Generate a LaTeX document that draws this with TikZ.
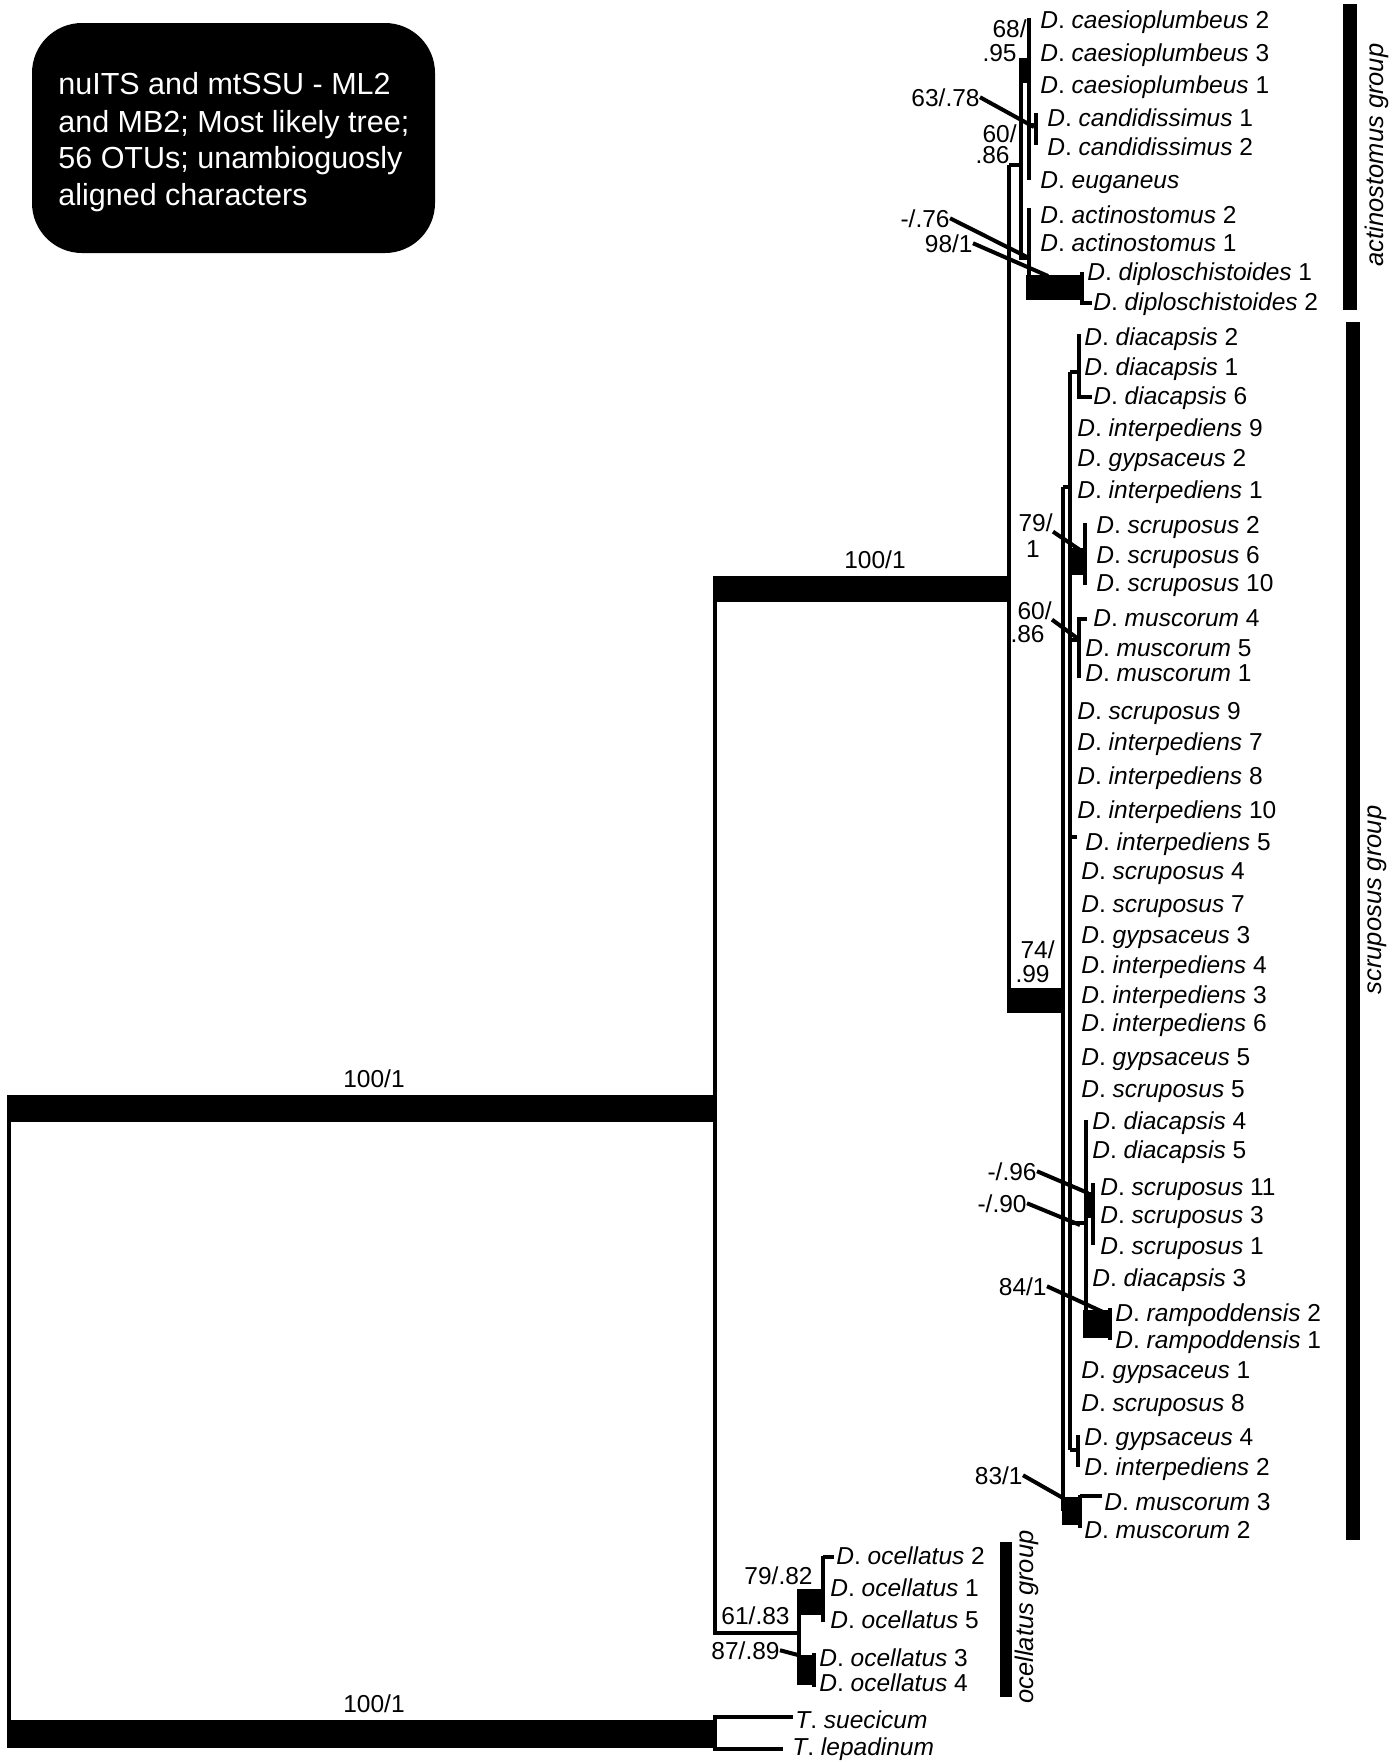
\documentclass[tikz,border=0pt]{standalone}
\usepackage{fontspec}
\setmainfont{Liberation Sans}
\newcommand\txsize{\fontsize{12.25pt}{14pt}\selectfont}
\newcommand\ttlsize{\fontsize{15.25pt}{18.5pt}\selectfont}
\newcommand\grpsize{\fontsize{12.75pt}{15pt}\selectfont}
\newcommand\txn[3]{\textit{#1}. \textit{#2} #3}
\begin{document}
\begin{tikzpicture}[x=0.5pt,y=-0.5pt,
  br/.style={line width=2pt},
  ld/.style={line width=2pt},
  tip/.style={anchor=base west, inner sep=0pt, font=\txsize},
  supp/.style={anchor=base east, inner sep=0pt, font=\txsize},
  suppc/.style={anchor=base, inner sep=0pt, font=\txsize},
  grp/.style={rotate=90, inner sep=0pt, font=\grpsize\itshape},
  ttl/.style={anchor=base west, inner sep=0pt, text=white, font=\ttlsize},
]
\useasboundingbox (0,0) rectangle (1400,1762);

% title box
\fill[rounded corners=25pt] (32,23) rectangle (435,253);
\node[ttl] (ttl1) at (58,94) {nuITS and mtSSU - ML2};
\node[ttl] (ttl2) at (58,132) {and MB2; Most likely tree;};
\node[ttl] (ttl3) at (58,168) {56 OTUs; unambioguosly};
\node[ttl] (ttl4) at (58,205) {aligned characters};

% group bars and labels
\fill (1343,4) rectangle (1357,310);
\fill (1346,322) rectangle (1360,1540);
\fill (1000,1542) rectangle (1012,1697);
\node[grp] (gact) at (1377,155) {actinostomus group};
\node[grp] (gscr) at (1377,900) {scruposus group};
\node[grp] (goce) at (1027,1617) {ocellatus group};

% root and deep branches
\fill (7,1095) rectangle (715,1122);
\fill (7,1720) rectangle (715,1748);
\draw[br] (9,1108) -- (9,1734);
\draw[br] (715,589) -- (715,1633) -- (799,1633);
\fill (713,576) rectangle (1010,602);
\draw[br] (1009,165) -- (1009,1000);
\draw[br] (1009,165) -- (1021,165);

% actinostomus group
\fill (1019,58) rectangle (1029,83);
\draw[br] (1029,18) -- (1029,180);
\draw[br] (1021,83) -- (1021,258) -- (1029,258);
\draw[br] (1029,125) -- (1036,125);
\draw[br] (1036,113) -- (1036,145);
\draw[br] (1029,208) -- (1029,288);
\fill (1026,275) rectangle (1083,300);
\draw[br] (1082,272) -- (1082,303) -- (1092,303);

% scruposus group
\fill (1007,988) rectangle (1062,1013);
\draw[br] (1063,487) -- (1063,1511);
\draw[br] (1063,487) -- (1070,487);
\draw[br] (1070,372) -- (1070,1450);
\draw[br] (1070,372) -- (1079,372);
\draw[br] (1079,334) -- (1079,397) -- (1092,397);
\fill (1070,548) rectangle (1085,575);
\draw[br] (1085,523) -- (1085,585);
\draw[br] (1070,640) -- (1079,640);
\draw[br] (1087,619) -- (1079,619) -- (1079,678);
\draw[br] (1070,837) -- (1077,837);
\draw[br] (1070,1223) -- (1086,1223);
\draw[br] (1086,1120) -- (1086,1312);
\fill (1086,1192) rectangle (1093,1218);
\draw[br] (1093,1183) -- (1093,1245);
\fill (1083,1310) rectangle (1110,1338);
\draw[br] (1110,1308) -- (1110,1340);
\draw[br] (1070,1450) -- (1078,1450);
\draw[br] (1078,1435) -- (1078,1467);
\fill (1062,1497) rectangle (1080,1525);
\draw[br] (1080,1495) -- (1080,1528);
\draw[br] (1080,1496) -- (1102,1496);

% ocellatus group
\draw[br] (799,1602) -- (799,1670);
\fill (797,1589) rectangle (823,1615);
\draw[br] (823,1556) -- (823,1622);
\draw[br] (823,1557) -- (834,1557);
\fill (797,1655) rectangle (813,1685);
\draw[br] (814,1653) -- (814,1687);

% Trapelia outgroup
\draw[br] (793,1717) -- (715,1717) -- (715,1749) -- (783,1749);

% support labels
\node[supp] (s68a) at (1027,37) {68/};
\node[supp] (s68b) at (1017,61) {.95};
\node[supp] (s63) at (980,106) {63/.78};
\node[supp] (s60a) at (1017,142) {60/};
\node[supp] (s60b) at (1010,163) {.86};
\node[supp] (s76) at (950,227) {-/.76};
\node[supp] (s98) at (973,252) {98/1};
\node[supp] (s79a) at (1053,531) {79/};
\node[suppc] (s79b) at (1033,557) {1};
\node[supp] (sm60a) at (1052,619) {60/};
\node[supp] (sm60b) at (1045,642) {.86};
\node[supp] (s74a) at (1055,958) {74/};
\node[supp] (s74b) at (1050,982) {.99};
\node[supp] (s96) at (1037,1180) {-/.96};
\node[supp] (s90) at (1027,1212) {-/.90};
\node[supp] (s84) at (1047,1295) {84/1};
\node[supp] (s83) at (1023,1484) {83/1};
\node[supp] (s7982) at (813,1584) {79/.82};
\node[supp] (s6183) at (790,1624) {61/.83};
\node[supp] (s8789) at (780,1659) {87/.89};
\node[suppc] (b1) at (875,568) {100/1};
\node[suppc] (b2) at (374,1087) {100/1};
\node[suppc] (b3) at (374,1712) {100/1};

% leader targets
\coordinate (c63) at (1034,127);
\coordinate (c76) at (1027,257);
\coordinate (c98) at (1048,276);
\coordinate (c79) at (1080,550);
\coordinate (cm60) at (1077,638);
\coordinate (c96) at (1088,1193);
\coordinate (c90) at (1080,1225);
\coordinate (c84) at (1103,1312);
\coordinate (c83) at (1070,1502);
\coordinate (c87) at (798,1655);
\draw[ld] (s63.east) -- (c63);
\draw[ld] (s76.east) -- (c76);
\draw[ld] (s98.east) -- (c98);
\draw[ld] (s79a.south east) -- (c79);
\draw[ld] (sm60a.south east) -- (cm60);
\draw[ld] (s96.east) -- (c96);
\draw[ld] (s90.east) -- (c90);
\draw[ld] (s84.east) -- (c84);
\draw[ld] (s83.east) -- (c83);
\draw[ld] (s8789.east) -- (c87);

% taxa: actinostomus group
\node[tip] (caes2) at (1040,28) {\txn{D}{caesioplumbeus}{2}};
\node[tip] (caes3) at (1040,61) {\txn{D}{caesioplumbeus}{3}};
\node[tip] (caes1) at (1040,93) {\txn{D}{caesioplumbeus}{1}};
\node[tip] (cand1) at (1047,126) {\txn{D}{candidissimus}{1}};
\node[tip] (cand2) at (1047,155) {\txn{D}{candidissimus}{2}};
\node[tip] (eug) at (1040,188) {\textit{D}. \textit{euganeus}};
\node[tip] (act2) at (1040,223) {\txn{D}{actinostomus}{2}};
\node[tip] (act1) at (1040,251) {\txn{D}{actinostomus}{1}};
\node[tip] (dip1) at (1087,280) {\txn{D}{diploschistoides}{1}};
\node[tip] (dip2) at (1093,310) {\txn{D}{diploschistoides}{2}};

% taxa: scruposus group
\node[tip] (dia2) at (1084,345) {\txn{D}{diacapsis}{2}};
\node[tip] (dia1) at (1084,375) {\txn{D}{diacapsis}{1}};
\node[tip] (dia6) at (1093,404) {\txn{D}{diacapsis}{6}};
\node[tip] (int9) at (1077,436) {\txn{D}{interpediens}{9}};
\node[tip] (gyp2) at (1077,466) {\txn{D}{gypsaceus}{2}};
\node[tip] (int1) at (1077,498) {\txn{D}{interpediens}{1}};
\node[tip] (scr2) at (1096,533) {\txn{D}{scruposus}{2}};
\node[tip] (scr6) at (1096,563) {\txn{D}{scruposus}{6}};
\node[tip] (scr10) at (1096,591) {\txn{D}{scruposus}{10}};
\node[tip] (mus4) at (1093,626) {\txn{D}{muscorum}{4}};
\node[tip] (mus5) at (1085,656) {\txn{D}{muscorum}{5}};
\node[tip] (mus1) at (1085,681) {\txn{D}{muscorum}{1}};
\node[tip] (scr9) at (1077,719) {\txn{D}{scruposus}{9}};
\node[tip] (int7) at (1077,750) {\txn{D}{interpediens}{7}};
\node[tip] (int8) at (1077,784) {\txn{D}{interpediens}{8}};
\node[tip] (int10) at (1077,818) {\txn{D}{interpediens}{10}};
\node[tip] (int5) at (1085,850) {\txn{D}{interpediens}{5}};
\node[tip] (scr4) at (1081,879) {\txn{D}{scruposus}{4}};
\node[tip] (scr7) at (1081,912) {\txn{D}{scruposus}{7}};
\node[tip] (gyp3) at (1081,943) {\txn{D}{gypsaceus}{3}};
\node[tip] (int4) at (1081,973) {\txn{D}{interpediens}{4}};
\node[tip] (int3) at (1081,1003) {\txn{D}{interpediens}{3}};
\node[tip] (int6) at (1081,1031) {\txn{D}{interpediens}{6}};
\node[tip] (gyp5) at (1081,1065) {\txn{D}{gypsaceus}{5}};
\node[tip] (scr5) at (1081,1097) {\txn{D}{scruposus}{5}};
\node[tip] (dia4) at (1092,1129) {\txn{D}{diacapsis}{4}};
\node[tip] (dia5) at (1092,1158) {\txn{D}{diacapsis}{5}};
\node[tip] (scr11) at (1100,1195) {\txn{D}{scruposus}{11}};
\node[tip] (scr3) at (1100,1223) {\txn{D}{scruposus}{3}};
\node[tip] (scr1) at (1100,1254) {\txn{D}{scruposus}{1}};
\node[tip] (dia3) at (1092,1286) {\txn{D}{diacapsis}{3}};
\node[tip] (ram2) at (1115,1321) {\txn{D}{rampoddensis}{2}};
\node[tip] (ram1) at (1115,1348) {\txn{D}{rampoddensis}{1}};
\node[tip] (gyp1) at (1081,1378) {\txn{D}{gypsaceus}{1}};
\node[tip] (scr8) at (1081,1411) {\txn{D}{scruposus}{8}};
\node[tip] (gyp4) at (1084,1445) {\txn{D}{gypsaceus}{4}};
\node[tip] (int2) at (1084,1475) {\txn{D}{interpediens}{2}};
\node[tip] (mus3) at (1104,1510) {\txn{D}{muscorum}{3}};
\node[tip] (mus2) at (1084,1538) {\txn{D}{muscorum}{2}};

% taxa: ocellatus group and outgroup
\node[tip] (oc2) at (836,1564) {\txn{D}{ocellatus}{2}};
\node[tip] (oc1) at (830,1596) {\txn{D}{ocellatus}{1}};
\node[tip] (oc5) at (830,1628) {\txn{D}{ocellatus}{5}};
\node[tip] (oc3) at (819,1666) {\txn{D}{ocellatus}{3}};
\node[tip] (oc4) at (819,1691) {\txn{D}{ocellatus}{4}};
\node[tip] (tsue) at (795,1728) {\textit{T}. \textit{suecicum}};
\node[tip] (tlep) at (792,1755) {\textit{T}. \textit{lepadinum}};
\end{tikzpicture}
\end{document}
